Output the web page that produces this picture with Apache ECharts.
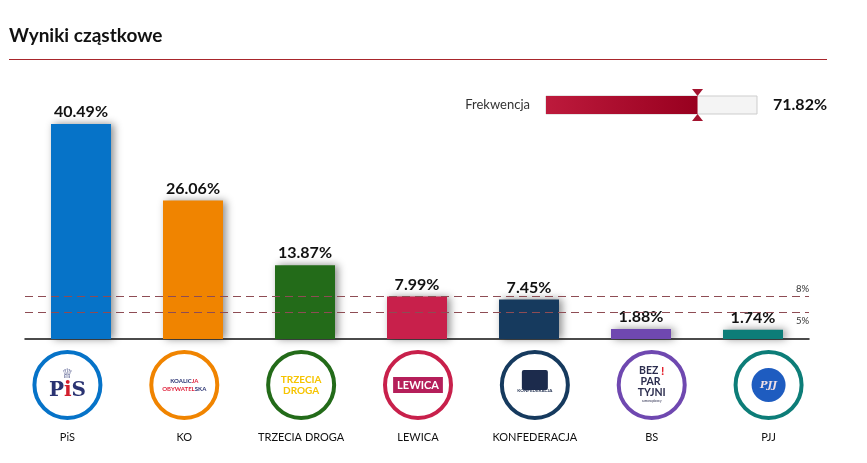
<!DOCTYPE html>
<html>
<head>
<meta charset="utf-8">
<script src="https://cdn.jsdelivr.net/npm/echarts@6/dist/echarts.min.js"></script>
<style>
html,body{margin:0;padding:0;background:#fff;}
#chart{width:867px;height:463px;}
</style>
</head>
<body>
<div id="chart"></div>
<script>
// ---- data ----
const parties = ['PiS', 'KO', 'TRZECIA DROGA', 'LEWICA', 'KONFEDERACJA', 'BS', 'PJJ'];
const results = [40.49, 26.06, 13.87, 7.99, 7.45, 1.88, 1.74];
const partyColors = ['#0673c8', '#f08400', '#236b19', '#c8204b', '#163a5e', '#6f48b0', '#0d7d78'];
const thresholds = [8, 5];
const turnoutLabel = 'Frekwencja';
const turnout = 71.82;
const titleText = 'Wyniki cząstkowe';

const FONT = 'Lato, "Noto Sans", sans-serif';

// logo contents (rich text) per party
const logoRich = {
  crown: { fontSize: 13, color: '#2a3372', fontFamily: 'DejaVu Sans', lineHeight: 12 },
  pp: { fontSize: 20, color: '#2a3372', fontWeight: 'bold', fontFamily: 'DejaVu Serif', lineHeight: 20 },
  pi: { fontSize: 20, color: '#d21f2d', fontWeight: 'bold', fontFamily: 'DejaVu Serif', lineHeight: 20 },
  kn: { fontSize: 6, color: '#2a3372', fontWeight: 'bold', fontFamily: FONT, lineHeight: 8 },
  kr: { fontSize: 6, color: '#e0203a', fontWeight: 'bold', fontFamily: FONT, lineHeight: 8 },
  td: { fontSize: 10, color: '#f6c400', fontWeight: 'bold', fontFamily: FONT, lineHeight: 11 },
  lw: { fontSize: 11, color: '#fff', fontWeight: 'bold', fontFamily: FONT, backgroundColor: '#b51f5a', padding: [3, 4, 2, 4] },
  kic: { width: 26, height: 20, backgroundColor: '#1c2b4c', borderRadius: 2 },
  kt: { fontSize: 4.5, color: '#1c2b4c', fontWeight: 'bold', fontFamily: FONT, lineHeight: 10 },
  bz: { fontSize: 10.5, color: '#2b2d4e', fontWeight: 'bold', fontFamily: FONT, lineHeight: 11 },
  bx: { fontSize: 12, color: '#e3202b', fontWeight: 'bold', fontFamily: FONT, lineHeight: 11 },
  bs: { fontSize: 3, color: '#2b2d4e', fontFamily: FONT, lineHeight: 6 },
  pj: { width: 34, height: 34, borderRadius: 17, backgroundColor: '#1e5cc0', color: '#f0e0e6', fontSize: 10, fontStyle: 'italic', fontWeight: 'bold', fontFamily: 'DejaVu Serif', align: 'center' }
};
const logoText = [
  '{crown|♕}\n{pp|P}{pi|i}{pp|S}',
  '{kn|KOALIC}{kr|JA}\n{kr|OBYWATEL}{kn|SKA}',
  '{td|TRZECIA}\n{td|DROGA}',
  '{lw|LEWICA}',
  '{kic|}\n{kt|KONFEDERACJA}',
  '{bz|BEZ }{bx|!}\n{bz|PAR }\n{bz|TYJNI}\n{bs|samorządowcy}',
  '{pj|PJJ}'
];

const chart = echarts.init(document.getElementById('chart'), null, { renderer: 'canvas' });

const option = {
  backgroundColor: '#fff',
  animation: false,
  textStyle: { fontFamily: FONT },
  title: {
    text: titleText,
    left: 4,
    top: 21,
    textStyle: { fontSize: 19, fontWeight: 'bold', color: '#111', fontFamily: FONT }
  },
  graphic: [{
    type: 'line',
    shape: { x1: 9, y1: 59.5, x2: 827, y2: 59.5 },
    style: { stroke: '#a8262c', lineWidth: 1 }
  }],
  grid: [
    { left: 25, width: 784, top: 100, height: 239 },
    { left: 9, right: 40, top: 350, height: 70 },
    { left: 546, width: 211, top: 96, height: 18 }
  ],
  xAxis: [
    {
      type: 'category', gridIndex: 0, data: parties,
      axisLine: { lineStyle: { color: '#111', width: 1.5 } },
      axisTick: { show: false }, axisLabel: { show: false }
    },
    {
      type: 'category', gridIndex: 1, data: parties,
      axisLine: { show: false }, axisTick: { show: false },
      axisLabel: { fontSize: 11, color: '#111', margin: 12, fontFamily: FONT }
    },
    {
      type: 'value', gridIndex: 2, min: 0, max: 100, show: false
    }
  ],
  yAxis: [
    { type: 'value', gridIndex: 0, min: 0, max: 45, show: false },
    { type: 'value', gridIndex: 1, min: 0, max: 1, show: false },
    {
      type: 'category', gridIndex: 2, data: [turnoutLabel], position: 'left',
      axisLine: { show: false }, axisTick: { show: false },
      axisLabel: { fontSize: 13, color: '#333', margin: 16, fontFamily: FONT }
    },
    {
      type: 'category', gridIndex: 2, data: [turnout.toFixed(2) + '%'], position: 'right',
      axisLine: { show: false }, axisTick: { show: false },
      axisLabel: { fontSize: 16, fontWeight: 'bold', color: '#111', margin: 16, fontFamily: FONT }
    }
  ],
  series: [
    {
      type: 'bar', xAxisIndex: 0, yAxisIndex: 0, barWidth: 60,
      data: results.map((v, i) => ({
        value: v,
        itemStyle: {
          color: partyColors[i],
          shadowBlur: 8, shadowColor: 'rgba(0,0,0,0.45)', shadowOffsetX: 3, shadowOffsetY: 0
        }
      })),
      label: {
        show: true, position: 'top', distance: 4,
        formatter: p => p.value.toFixed(2) + '%',
        fontSize: 16, fontWeight: 'bold', color: '#111', fontFamily: FONT
      },
      markLine: {
        silent: true, symbol: 'none',
        lineStyle: { type: [8, 5], color: '#8e4c54', width: 1 },
        data: thresholds.map((t, i) => ({
          yAxis: t,
          label: {
            show: true, formatter: t + '%',
            position: i === 0 ? 'insideEndTop' : 'insideEndBottom',
            fontSize: 9.5, color: '#333', distance: [0, 3]
          }
        }))
      },
      z: 2
    },
    {
      type: 'scatter', xAxisIndex: 1, yAxisIndex: 1,
      symbol: 'circle', symbolSize: 66,
      data: parties.map((p, i) => ({
        value: [i, 0.5],
        itemStyle: { color: '#fff', borderColor: partyColors[i], borderWidth: 4, opacity: 1 },
        label: {
          show: true, position: 'inside', formatter: logoText[i],
          rich: logoRich, align: 'center', lineHeight: 12
        }
      })),
      silent: true
    },
    {
      type: 'bar', xAxisIndex: 2, yAxisIndex: 2, barWidth: 18,
      data: [turnout],
      showBackground: true,
      backgroundStyle: { color: '#f4f4f4', borderColor: '#cdcdcd', borderWidth: 1 },
      itemStyle: {
        color: new echarts.graphic.LinearGradient(0, 0, 1, 0, [
          { offset: 0, color: '#bd1a3c' }, { offset: 1, color: '#98001f' }
        ])
      },
      silent: true
    },
    {
      type: 'scatter', xAxisIndex: 2, yAxisIndex: 2,
      symbol: 'triangle', symbolSize: [11, 7], symbolRotate: 180, symbolOffset: [0, -12.5],
      itemStyle: { color: '#a3132f', opacity: 1 },
      data: [[turnout, turnoutLabel]], silent: true, z: 5
    },
    {
      type: 'scatter', xAxisIndex: 2, yAxisIndex: 2,
      symbol: 'triangle', symbolSize: [11, 7], symbolOffset: [0, 12.5],
      itemStyle: { color: '#a3132f', opacity: 1 },
      data: [[turnout, turnoutLabel]], silent: true, z: 5
    }
  ]
};
chart.setOption(option);
</script>
</body>
</html>
